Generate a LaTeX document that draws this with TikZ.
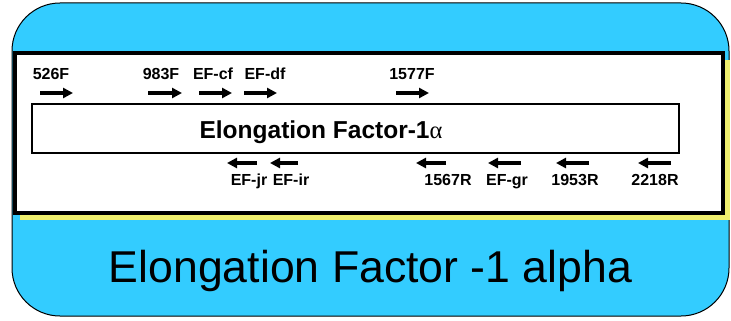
\documentclass[tikz,border=0pt]{standalone}
\usepackage{fontspec}
\setmainfont{Liberation Sans}
\newfontfamily\greekfont{Liberation Serif}
\usetikzlibrary{arrows.meta}
\definecolor{panelblue}{RGB}{51,204,255}
\definecolor{shadowyellow}{RGB}{240,240,110}

\begin{document}
\begin{tikzpicture}[x=1pt,y=-1pt,
    primer/.style={line width=3.5pt,-{Triangle[length=10pt,width=10pt]}},
    plabel/.style={font=\bfseries\fontsize{16}{16}\selectfont,inner sep=0pt,anchor=base}]
    \useasboundingbox (0,0) rectangle (731,321);
    % blue panel with the framed gene map on top
    \draw[fill=panelblue,line width=1pt,rounded corners=48pt] (12,3) rectangle (729,316);
    \fill[shadowyellow] (20,60) rectangle (730,220);
    \draw[fill=white,line width=4pt] (14.5,53.5) rectangle (722.5,212.5);
    \node[draw,line width=1.2pt,minimum width=647pt,minimum height=49pt] (gene) at (355.5,128.5) {};
    \node[anchor=base,font=\bfseries\fontsize{24.5}{24.5}\selectfont] (genename) at (321,138)
        {Elongation Factor-1{\greekfont\mdseries α}};
    % forward primers
    \draw[primer] (40,93) -- (73,93);
    \node[plabel] (p526F) at (51,79) {526F};
    \draw[primer] (148,93) -- (182,93);
    \node[plabel] (p983F) at (161,79) {983F};
    \draw[primer] (199,93) -- (232,93);
    \node[plabel] (pEFcf) at (213,79) {EF-cf};
    \draw[primer] (244,93) -- (277,93);
    \node[plabel] (pEFdf) at (265,79) {EF-df};
    \draw[primer] (396,93) -- (429,93);
    \node[plabel] (p1577F) at (412,79) {1577F};
    % reverse primers
    \draw[primer] (257,163) -- (227,163);
    \node[plabel] (pEFjr) at (249,185) {EF-jr};
    \draw[primer] (298,163) -- (270,163);
    \node[plabel] (pEFir) at (291,185) {EF-ir};
    \draw[primer] (446,163) -- (416,163);
    \node[plabel] (p1567R) at (448,185) {1567R};
    \draw[primer] (521,163) -- (488,163);
    \node[plabel] (pEFgr) at (507,185) {EF-gr};
    \draw[primer] (589,163) -- (556,163);
    \node[plabel] (p1953R) at (575,185) {1953R};
    \draw[primer] (671,163) -- (638,163);
    \node[plabel] (p2218R) at (655,185) {2218R};
    % caption
    \node[anchor=base,font=\fontsize{44.6}{44.6}\selectfont] (title) at (370.5,282)
        {Elongation Factor -1 alpha};
\end{tikzpicture}
\end{document}
